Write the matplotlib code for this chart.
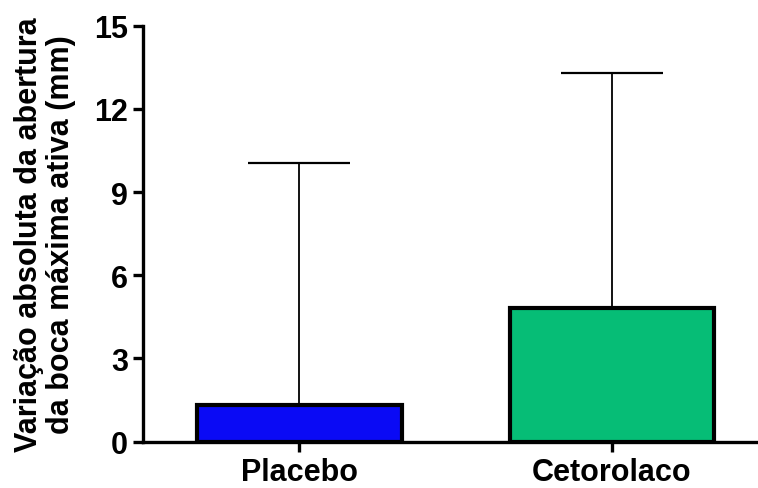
import numpy as np
import matplotlib.pyplot as plt

plt.rcParams['font.family'] = ['Liberation Sans', 'DejaVu Sans']
plt.rcParams['font.weight'] = 'bold'

groups = ['Placebo', 'Cetorolaco']
means = [1.32, 4.82]
sd_upper = [8.72, 8.48]
bar_colors = ['#0a0af5', '#06bd76']
yticks = [0, 3, 6, 9, 12, 15]

fig = plt.figure(figsize=(7.58, 4.89), dpi=100)
ax = fig.add_axes([0.189, 0.0947, 0.811, 0.8507])

x = np.arange(len(groups))
ax.errorbar(x, means, yerr=[np.zeros(len(means)), sd_upper], fmt='none',
            ecolor='black', elinewidth=1.3, capsize=37, capthick=1.6, zorder=1)
ax.bar(x, means, width=0.655, color=bar_colors, edgecolor='black',
       linewidth=3.0, zorder=2)

ax.set_xlim(-0.5, 1.468)
ax.set_ylim(0, 15)
ax.set_yticks(yticks)
ax.set_xticks(x)
ax.set_xticklabels(groups, fontsize=22, fontweight='bold')
ax.set_yticklabels([str(t) for t in yticks], fontsize=22, fontweight='bold')

for s in ['top', 'right']:
    ax.spines[s].set_visible(False)
for s in ['left', 'bottom']:
    ax.spines[s].set_linewidth(2.4)
ax.tick_params(axis='both', width=2.4, length=7, pad=4)

ax.set_ylabel('Variação absoluta da abertura\nda boca máxima ativa (mm)',
              fontsize=22, fontweight='bold', linespacing=1.1, labelpad=13)

fig.savefig('out.png', dpi=100)
